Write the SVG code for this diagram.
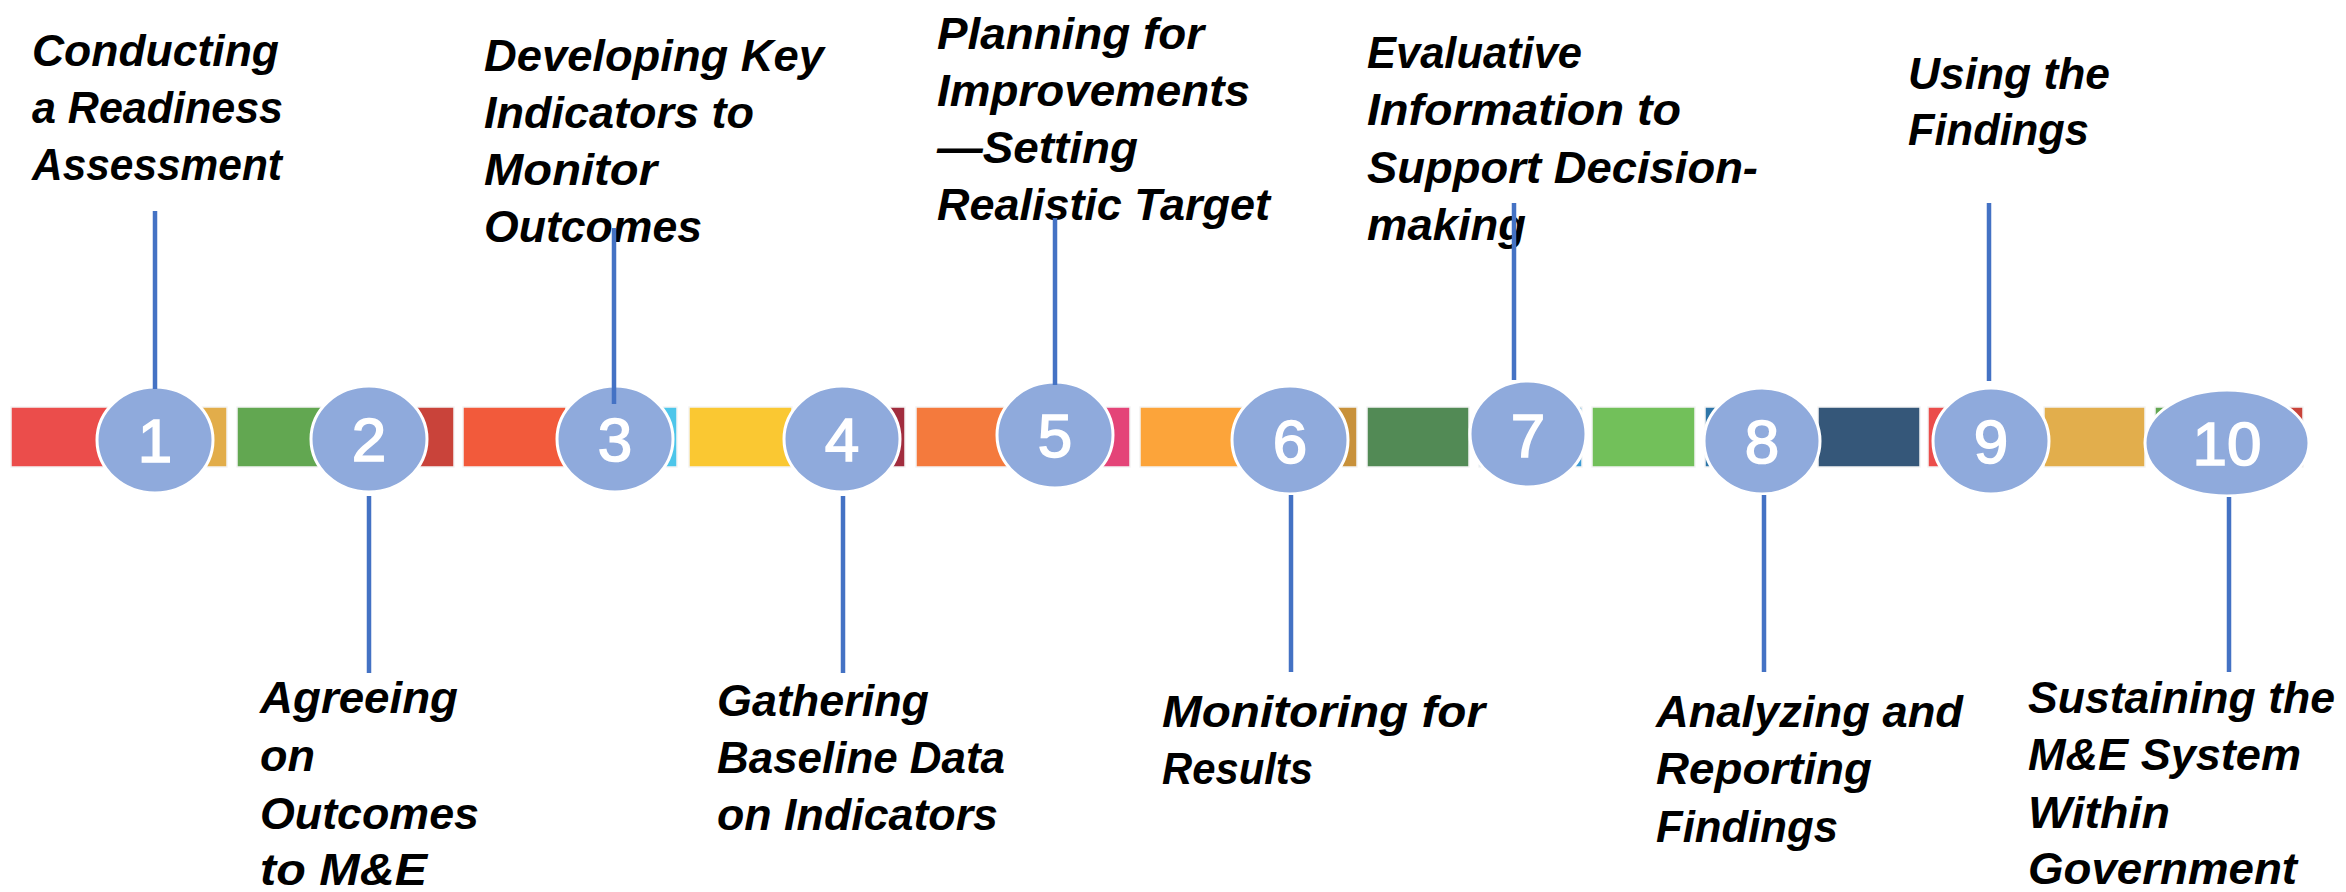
<svg xmlns="http://www.w3.org/2000/svg" width="2346" height="892" viewBox="0 0 2346 892">
<style>
.lbl{font-family:"Liberation Sans",Arial,sans-serif;font-weight:bold;font-style:italic;font-size:45px;fill:#000}
.num{font-family:"Liberation Sans",Arial,sans-serif;font-size:62px;fill:#fff;stroke:#fff;stroke-width:1.6;text-anchor:middle}
.dot{fill:#8FAADC;stroke:#fff;stroke-width:3}
.tile{stroke:#f4f4f4;stroke-width:1.5}
.conn line{stroke:#4472C4;stroke-width:4.5}
</style>
<rect width="2346" height="892" fill="#fff"/>
<g id="bar">
<rect class="tile" x="11" y="407" width="103" height="60" fill="#EB4D4B"/>
<rect class="tile" x="124" y="407" width="103" height="60" fill="#E2AD4A"/>
<rect class="tile" x="237" y="407" width="103" height="60" fill="#62A751"/>
<rect class="tile" x="350" y="407" width="104" height="60" fill="#C9433A"/>
<rect class="tile" x="463" y="407" width="103" height="60" fill="#F25A3B"/>
<rect class="tile" x="576" y="407" width="101" height="60" fill="#4DC6EA"/>
<rect class="tile" x="689" y="407" width="103" height="60" fill="#FAC832"/>
<rect class="tile" x="802" y="407" width="103" height="60" fill="#A12D3E"/>
<rect class="tile" x="916" y="407" width="103" height="60" fill="#F47A3D"/>
<rect class="tile" x="1029" y="407" width="101" height="60" fill="#E44478"/>
<rect class="tile" x="1140" y="407" width="103" height="60" fill="#FCA43A"/>
<rect class="tile" x="1254" y="407" width="103" height="60" fill="#C8913A"/>
<rect class="tile" x="1367" y="407" width="102" height="60" fill="#528A55"/>
<rect class="tile" x="1479" y="407" width="103" height="60" fill="#3D9BD4"/>
<rect class="tile" x="1592" y="407" width="103" height="60" fill="#72C05A"/>
<rect class="tile" x="1705" y="407" width="103" height="60" fill="#2E76A8"/>
<rect class="tile" x="1818" y="407" width="102" height="60" fill="#355779"/>
<rect class="tile" x="1928" y="407" width="106" height="60" fill="#EB4D4B"/>
<rect class="tile" x="2044" y="407" width="101" height="60" fill="#E2AE4C"/>
<rect class="tile" x="2155" y="407" width="103" height="60" fill="#62A751"/>
<rect class="tile" x="2268" y="407" width="35" height="60" fill="#C9433A"/>
</g>
<g id="n1"><ellipse class="dot" cx="155" cy="440" rx="58" ry="53"/><text class="num" x="155" y="462">1</text>
<text class="lbl" x="32" y="66" textLength="247" lengthAdjust="spacingAndGlyphs">Conducting</text><text class="lbl" x="32" y="123" textLength="251" lengthAdjust="spacingAndGlyphs">a Readiness</text><text class="lbl" x="32" y="180" textLength="250" lengthAdjust="spacingAndGlyphs">Assessment</text></g>
<g id="n2"><ellipse class="dot" cx="369" cy="439" rx="58" ry="53"/><text class="num" x="369" y="461">2</text>
<text class="lbl" x="260" y="713" textLength="198" lengthAdjust="spacingAndGlyphs">Agreeing</text><text class="lbl" x="260" y="771">on</text><text class="lbl" x="260" y="829" textLength="219" lengthAdjust="spacingAndGlyphs">Outcomes</text><text class="lbl" x="260" y="885" textLength="167" lengthAdjust="spacingAndGlyphs">to M&amp;E</text></g>
<g id="n3"><ellipse class="dot" cx="615" cy="439" rx="58" ry="53"/><text class="num" x="615" y="461">3</text>
<text class="lbl" x="484" y="71" textLength="340" lengthAdjust="spacingAndGlyphs">Developing Key</text><text class="lbl" x="484" y="128" textLength="270" lengthAdjust="spacingAndGlyphs">Indicators to</text><text class="lbl" x="484" y="185" textLength="173" lengthAdjust="spacingAndGlyphs">Monitor</text><text class="lbl" x="484" y="242" textLength="218" lengthAdjust="spacingAndGlyphs">Outcomes</text></g>
<g id="n4"><ellipse class="dot" cx="842" cy="439" rx="58" ry="53"/><text class="num" x="842" y="461">4</text>
<text class="lbl" x="717" y="716" textLength="212" lengthAdjust="spacingAndGlyphs">Gathering</text><text class="lbl" x="717" y="773" textLength="288" lengthAdjust="spacingAndGlyphs">Baseline Data</text><text class="lbl" x="717" y="830" textLength="281" lengthAdjust="spacingAndGlyphs">on Indicators</text></g>
<g id="n5"><ellipse class="dot" cx="1055" cy="435" rx="58" ry="53"/><text class="num" x="1055" y="457">5</text>
<text class="lbl" x="937" y="49" textLength="267" lengthAdjust="spacingAndGlyphs">Planning for</text><text class="lbl" x="937" y="106" textLength="313" lengthAdjust="spacingAndGlyphs">Improvements</text><text class="lbl" x="937" y="163" textLength="201" lengthAdjust="spacingAndGlyphs">—Setting</text><text class="lbl" x="937" y="220" textLength="333" lengthAdjust="spacingAndGlyphs">Realistic Target</text></g>
<g id="n6"><ellipse class="dot" cx="1290" cy="440" rx="58" ry="54"/><text class="num" x="1290" y="463">6</text>
<text class="lbl" x="1162" y="727" textLength="323" lengthAdjust="spacingAndGlyphs">Monitoring for</text><text class="lbl" x="1162" y="784" textLength="151" lengthAdjust="spacingAndGlyphs">Results</text></g>
<g id="n7"><ellipse class="dot" cx="1528" cy="434" rx="58" ry="53"/><text class="num" x="1528" y="457">7</text>
<text class="lbl" x="1367" y="68" textLength="215" lengthAdjust="spacingAndGlyphs">Evaluative</text><text class="lbl" x="1367" y="125" textLength="314" lengthAdjust="spacingAndGlyphs">Information to</text><text class="lbl" x="1367" y="183" textLength="391" lengthAdjust="spacingAndGlyphs">Support Decision-</text><text class="lbl" x="1367" y="240" textLength="159" lengthAdjust="spacingAndGlyphs">making</text></g>
<g id="n8"><ellipse class="dot" cx="1762" cy="441" rx="58" ry="53"/><text class="num" x="1762" y="463">8</text>
<text class="lbl" x="1656" y="727" textLength="307" lengthAdjust="spacingAndGlyphs">Analyzing and</text><text class="lbl" x="1656" y="784" textLength="216" lengthAdjust="spacingAndGlyphs">Reporting</text><text class="lbl" x="1656" y="842" textLength="182" lengthAdjust="spacingAndGlyphs">Findings</text></g>
<g id="n9"><ellipse class="dot" cx="1991" cy="441" rx="58" ry="53"/><text class="num" x="1991" y="463">9</text>
<text class="lbl" x="1908" y="89" textLength="202" lengthAdjust="spacingAndGlyphs">Using the</text><text class="lbl" x="1908" y="145" textLength="181" lengthAdjust="spacingAndGlyphs">Findings</text></g>
<g id="n10"><ellipse class="dot" cx="2227" cy="443" rx="82" ry="53"/><text class="num" x="2227" y="465">10</text>
<text class="lbl" x="2028" y="713" textLength="307" lengthAdjust="spacingAndGlyphs">Sustaining the</text><text class="lbl" x="2028" y="770" textLength="273" lengthAdjust="spacingAndGlyphs">M&amp;E System</text><text class="lbl" x="2028" y="828" textLength="142" lengthAdjust="spacingAndGlyphs">Within</text><text class="lbl" x="2028" y="884" textLength="269" lengthAdjust="spacingAndGlyphs">Government</text></g>
<g id="connectors" class="conn">
<line x1="155" y1="211" x2="155" y2="389"/>
<line x1="369" y1="496" x2="369" y2="673"/>
<line x1="614" y1="228" x2="614" y2="404"/>
<line x1="843" y1="496" x2="843" y2="673"/>
<line x1="1055" y1="218" x2="1055" y2="385"/>
<line x1="1291" y1="495" x2="1291" y2="672"/>
<line x1="1514" y1="203" x2="1514" y2="380"/>
<line x1="1764" y1="495" x2="1764" y2="672"/>
<line x1="1989" y1="203" x2="1989" y2="381"/>
<line x1="2229" y1="497" x2="2229" y2="672"/>
</g>
</svg>
